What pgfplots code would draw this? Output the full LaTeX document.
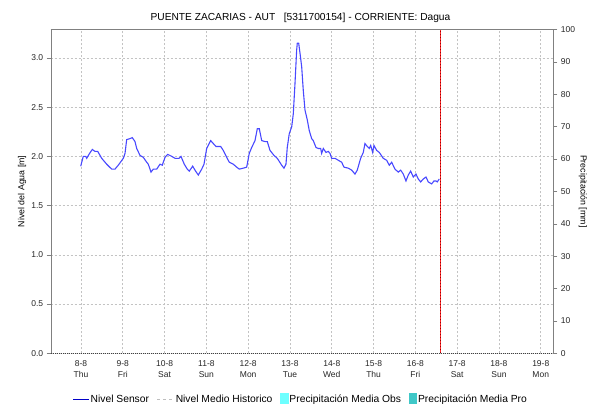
\documentclass[border=0pt]{standalone}
\usepackage{pgfplots}
\pgfplotsset{compat=1.18}
\usepackage{fontspec}
\setmainfont{Liberation Sans}
\definecolor{sensor}{RGB}{72,72,255}
\definecolor{sensorleg}{RGB}{0,0,200}
\definecolor{gridc}{RGB}{195,195,195}
\definecolor{spine}{RGB}{128,128,128}
\definecolor{obs}{RGB}{110,255,255}
\definecolor{pro}{RGB}{64,200,200}
\definecolor{histc}{RGB}{190,190,190}
\definecolor{nowc}{RGB}{255,40,40}

\begin{document}
\begin{tikzpicture}
\begin{axis}[
  at={(0pt,0pt)}, anchor=south west,
  scale only axis, width=502.6pt, height=324pt,
  xmin=-0.725, xmax=11.3, ymin=0, ymax=3.29,
  axis x line*=bottom, axis y line*=left,
  x axis line style={black!75, dash pattern=on 1pt off 1pt, -},
  y axis line style={spine, -},
  xtick={0,1,...,11},
  xticklabels={{8-8\\Thu},{9-8\\Fri},{10-8\\Sat},{11-8\\Sun},{12-8\\Mon},{13-8\\Tue},{14-8\\Wed},{15-8\\Thu},{16-8\\Fri},{17-8\\Sat},{18-8\\Sun},{19-8\\Mon}},
  xtick style={draw=none},
  xticklabel style={align=center, font=\fontsize{8.5}{10.5}\selectfont, text=black!85},
  ytick={0,0.5,1,1.5,2,2.5,3},
  yticklabel style={font=\fontsize{8.5}{10}\selectfont, text=black!85},
  /pgf/number format/.cd, fixed, fixed zerofill, precision=1, assume math mode=true,
  /pgfplots/.cd,
  tick align=outside, major tick length=4pt,
  ytick style={spine},
  xmajorgrids, ymajorgrids,
  grid style={gridc, dash pattern=on 2pt off 2pt, line width=0.6pt},
  ylabel={Nivel del Agua [m]},
  every axis y label/.style={at={(axis description cs:-0.0571,0.5)}, rotate=90, anchor=center, font=\fontsize{8.8}{10}\selectfont},
  title={PUENTE ZACARIAS - AUT\ \ \ [5311700154] - CORRIENTE: Dagua},
  every axis title/.style={at={(axis description cs:0.497,1.0265)}, anchor=base, font=\fontsize{10.2}{12}\selectfont},
  legend columns=4,
  legend style={draw=none, fill=none, at={(axis description cs:0.497,-0.117)}, anchor=north,
    font=\fontsize{10.3}{12}\selectfont,
    nodes={inner sep=1.5pt},
    /tikz/every even column/.append style={column sep=6pt},
    /tikz/every odd column/.append style={column sep=0pt}},
]
\addplot[sensor, line width=1.1pt, forget plot] coordinates {
(-0.007,1.90) (0.055,2.00) (0.112,2.00) (0.136,1.98) (0.191,2.02) (0.270,2.07) (0.335,2.05) (0.400,2.05)
(0.455,2.01) (0.495,1.98) (0.615,1.92) (0.734,1.87) (0.813,1.87) (0.892,1.91) (1.012,1.98) (1.053,2.03)
(1.093,2.17) (1.172,2.18) (1.227,2.19) (1.292,2.15) (1.333,2.08) (1.411,2.01) (1.490,1.99) (1.572,1.94)
(1.610,1.92) (1.675,1.84) (1.730,1.87) (1.811,1.87) (1.890,1.92) (1.945,1.91) (2.010,1.99) (2.074,2.02)
(2.170,2.00) (2.249,1.98) (2.344,1.98) (2.392,2.00) (2.471,1.92) (2.543,1.87) (2.591,1.85) (2.672,1.90)
(2.727,1.86) (2.806,1.81) (2.888,1.87) (2.943,1.92) (3.007,2.08) (3.103,2.16) (3.165,2.13) (3.230,2.10)
(3.342,2.10) (3.404,2.06) (3.486,1.99) (3.548,1.94) (3.644,1.92) (3.725,1.89) (3.787,1.87) (3.883,1.88)
(3.964,1.89) (4.026,2.03) (4.084,2.09) (4.163,2.16) (4.218,2.28) (4.266,2.28) (4.323,2.16) (4.402,2.15)
(4.457,2.15) (4.522,2.06) (4.617,2.01) (4.696,1.98) (4.801,1.91) (4.856,1.88) (4.904,1.92) (4.935,2.09)
(4.983,2.23) (5.041,2.30) (5.079,2.43) (5.120,2.74) (5.160,3.08) (5.175,3.15) (5.208,3.15) (5.239,3.05)
(5.280,2.91) (5.318,2.67) (5.359,2.47) (5.414,2.37) (5.462,2.26) (5.519,2.18) (5.557,2.16) (5.622,2.09)
(5.677,2.08) (5.734,2.08) (5.758,2.03) (5.797,2.08) (5.861,2.04) (5.916,2.05) (5.957,2.03) (5.998,1.98)
(6.077,1.98) (6.156,1.96) (6.237,1.94) (6.292,1.89) (6.395,1.88) (6.476,1.86) (6.555,1.82) (6.610,1.86)
(6.691,1.98) (6.754,2.04) (6.794,2.13) (6.849,2.10) (6.897,2.08) (6.931,2.11) (6.978,2.04) (7.010,2.11)
(7.074,2.06) (7.136,2.04) (7.232,1.98) (7.313,1.96) (7.376,1.91) (7.433,1.94) (7.512,1.87) (7.591,1.84)
(7.648,1.86) (7.711,1.82) (7.775,1.75) (7.830,1.81) (7.887,1.85) (7.950,1.79) (8.014,1.82) (8.069,1.77)
(8.127,1.74) (8.189,1.77) (8.254,1.79) (8.309,1.74) (8.390,1.72) (8.445,1.75) (8.493,1.75) (8.524,1.74)
(8.572,1.77)
};
\addplot[nowc, line width=1.3pt, forget plot] coordinates {(8.6,0) (8.6,3.29)};
\addplot[red!60!black, line width=0.5pt, dash pattern=on 1pt off 2pt, forget plot] coordinates {(8.6,0) (8.6,3.29)};
\addlegendimage{legend image code/.code={\draw[sensorleg, line width=1pt] (0pt,0pt) -- (15.6pt,0pt);}}
\addlegendentry{Nivel Sensor}
\addlegendimage{legend image code/.code={\draw[histc, line width=1pt, dash pattern=on 3pt off 3pt] (0pt,0pt) -- (16.7pt,0pt);}}
\addlegendentry{Nivel Medio Historico}
\addlegendimage{legend image code/.code={\fill[obs] (0pt,-5.8pt) rectangle (7.6pt,5.8pt);}}
\addlegendentry{Precipitación Media Obs}
\addlegendimage{legend image code/.code={\fill[pro] (0pt,-5.8pt) rectangle (7.6pt,5.8pt);}}
\addlegendentry{Precipitación Media Pro}
\end{axis}
\begin{axis}[
  at={(0pt,0pt)}, anchor=south west,
  scale only axis, width=502.6pt, height=324pt,
  xmin=-0.725, xmax=11.3, ymin=0, ymax=100,
  axis x line*=top, axis y line*=right,
  axis line style={spine, -},
  xtick=\empty,
  ytick={0,10,...,100},
  tick align=outside, major tick length=4pt,
  ytick style={spine},
  yticklabel style={font=\fontsize{8.5}{10}\selectfont, text=black!85},
  /pgf/number format/assume math mode=true,
  ylabel={Precipitación [mm]},
  every axis y label/.style={at={(axis description cs:1.059,0.5)}, rotate=-90, anchor=center, font=\fontsize{8.8}{10}\selectfont},
]
\end{axis}
\pgfresetboundingbox
\useasboundingbox (-50.7pt,-50.7pt) rectangle (539.3pt,353.3pt);
\end{tikzpicture}
\end{document}
